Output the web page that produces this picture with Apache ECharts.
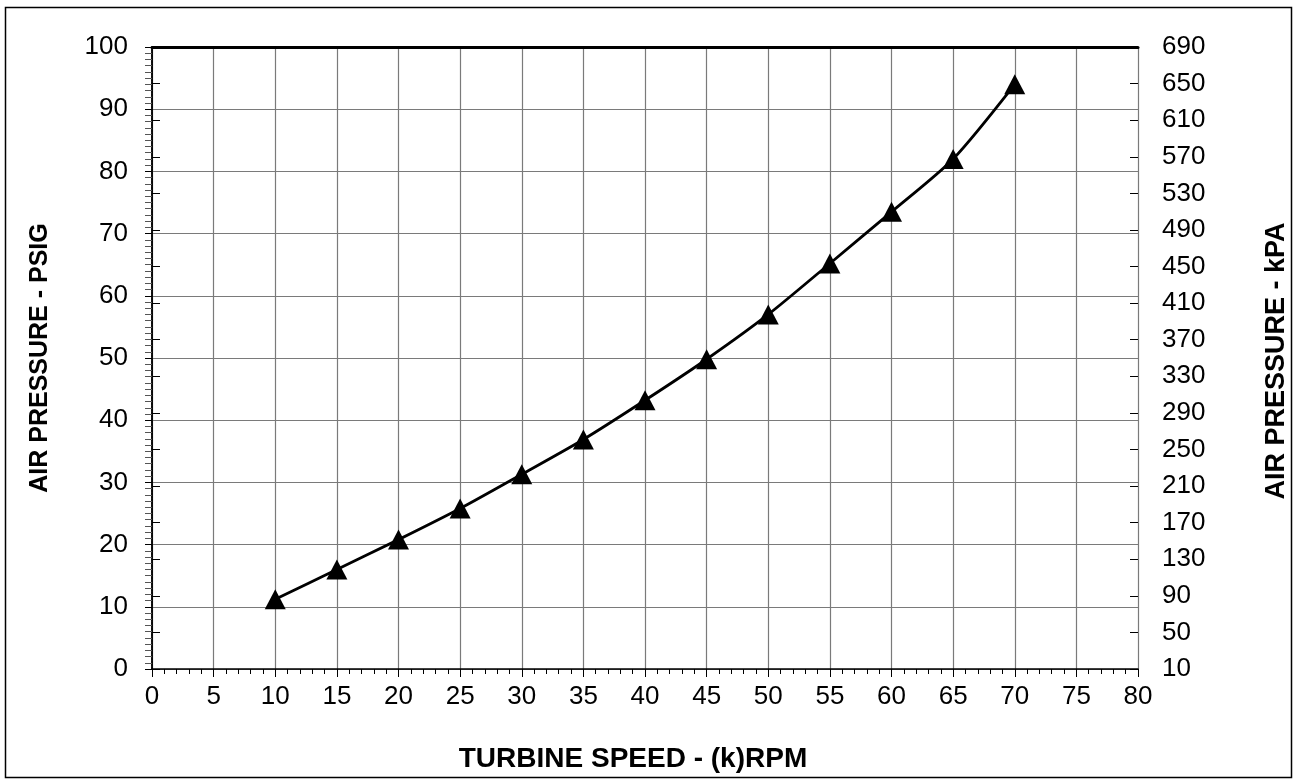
<!DOCTYPE html>
<html>
<head>
<meta charset="utf-8">
<script src="https://cdn.jsdelivr.net/npm/echarts@6/dist/echarts.min.js"></script>
<style>
html,body{margin:0;padding:0;background:#fff;}
#main{width:1297px;height:783px;}
</style>
</head>
<body>
<div id="main"></div>
<script>
// 转速 (k)RPM
var speeds = [10, 15, 20, 25, 30, 35, 40, 45, 50, 55, 60, 65, 70];
// 空气压力 PSIG
var psig = [11.2, 16.0, 20.8, 25.8, 31.3, 36.9, 43.2, 49.8, 57.0, 65.2, 73.5, 82.0, 94.0];
// 轴刻度
var xTicks = {min: 0, max: 80, step: 5};
var psiTicks = {min: 0, max: 100, step: 10};
var kpaTicks = {min: 10, max: 690, step: 40};

var titles = {
    x: 'TURBINE SPEED - (k)RPM',
    left: 'AIR PRESSURE - PSIG',
    right: 'AIR PRESSURE - kPA'
};

var font = '"Liberation Sans", Arial, Helvetica, sans-serif';

var myChart = echarts.init(document.getElementById('main'), null, {renderer: 'canvas'});

var gridLine = {show: true, lineStyle: {color: '#7a7a7a', width: 1.2}};

var opt = {
    animation: false,
    backgroundColor: '#fff',
    grid: {left: 152, right: 159, top: 47, bottom: 114},
    xAxis: [
        {
            type: 'value',
            min: xTicks.min, max: xTicks.max, interval: xTicks.step,
            axisLine: {show: true, lineStyle: {color: '#000', width: 1.5}},
            axisTick: {show: true, length: 8, lineStyle: {color: '#000', width: 1}},
            minorTick: {show: true, splitNumber: 5, length: 5, lineStyle: {color: '#000', width: 1}},
            splitLine: gridLine,
            axisLabel: {color: '#000', fontSize: 26, fontFamily: font, margin: 15}
        },
        {
            // 顶部粗边框
            type: 'value', position: 'top',
            min: xTicks.min, max: xTicks.max, interval: xTicks.step,
            axisLine: {show: true, lineStyle: {color: '#000', width: 3}},
            axisTick: {show: false}, axisLabel: {show: false}, splitLine: {show: false}
        }
    ],
    yAxis: [
        {
            type: 'value', position: 'left',
            min: psiTicks.min, max: psiTicks.max, interval: psiTicks.step,
            axisLine: {show: true, lineStyle: {color: '#000', width: 1.5}},
            axisTick: {show: true, length: 7, lineStyle: {color: '#000', width: 1}},
            minorTick: {show: true, splitNumber: 10, length: 7, lineStyle: {color: '#555', width: 1}},
            splitLine: gridLine,
            axisLabel: {color: '#000', fontSize: 26, fontFamily: font, margin: 24}
        },
        {
            type: 'value', position: 'right',
            min: kpaTicks.min, max: kpaTicks.max, interval: kpaTicks.step,
            axisLine: {show: true, lineStyle: {color: '#000', width: 1.5, type: [2, 1]}},
            axisTick: {show: true, length: 8, lineStyle: {color: '#000', width: 1}},
            splitLine: {show: false},
            axisLabel: {color: '#000', fontSize: 26, fontFamily: font, margin: 24}
        },
        {
            // 右轴刻度向内的一半
            type: 'value', position: 'right',
            min: kpaTicks.min, max: kpaTicks.max, interval: kpaTicks.step,
            axisLine: {show: false},
            axisTick: {show: true, inside: true, length: 8, lineStyle: {color: '#000', width: 1}},
            splitLine: {show: false},
            axisLabel: {show: false}
        }
    ],
    series: [
        {
            type: 'line',
            xAxisIndex: 0, yAxisIndex: 0,
            data: speeds.map(function(s, i){ return [s, psig[i]]; }),
            smooth: 0.25,
            symbol: 'triangle',
            symbolSize: [21, 20],
            itemStyle: {color: '#000'},
            lineStyle: {color: '#000', width: 2.8}
        }
    ],
    graphic: [
        {
            type: 'rect', silent: true, z: -1,
            shape: {x: 5.5, y: 7.5, width: 1286, height: 770},
            style: {fill: 'none', stroke: '#000', lineWidth: 1.5}
        },
        {
            type: 'text', x: 633, y: 759,
            style: {text: titles.x, font: 'bold 28px ' + font, fill: '#000', textAlign: 'center', textVerticalAlign: 'middle'}
        },
        {
            type: 'text', x: 40, y: 358, rotation: Math.PI / 2,
            style: {text: titles.left, font: 'bold 25px ' + font, fill: '#000', textAlign: 'center', textVerticalAlign: 'middle'}
        },
        {
            type: 'text', x: 1277, y: 361, rotation: Math.PI / 2,
            style: {text: titles.right, font: 'bold 27px ' + font, fill: '#000', textAlign: 'center', textVerticalAlign: 'middle'}
        }
    ]
};

myChart.setOption(opt);
</script>
</body>
</html>
